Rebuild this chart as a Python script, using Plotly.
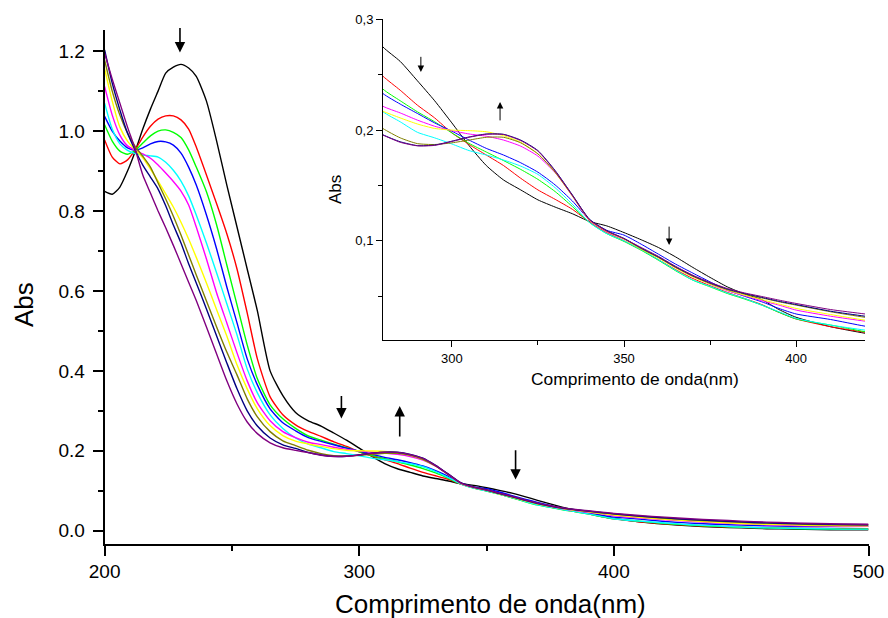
import plotly.graph_objects as go

# ---------------- data ----------------
wavelength = [200, 203, 206, 209, 212, 215, 218, 221, 224, 227, 230, 233, 236,
              240, 244, 248, 252, 256, 260,
              265, 270, 275, 280, 285, 290, 295, 300, 305, 310, 315, 320, 325, 330, 335, 340,
              345, 350, 355, 360, 365, 370, 375, 380, 385, 390, 395, 400,
              410, 420, 430, 440, 450, 460, 470, 480, 490, 500]

abs_black = [0.849, 0.842, 0.860, 0.900, 0.949, 1.005, 1.055, 1.100, 1.145, 1.160, 1.167, 1.158, 1.137,
             1.075, 0.975, 0.865, 0.760, 0.655, 0.550,
             0.400, 0.338, 0.296, 0.275, 0.262, 0.2445, 0.2265, 0.2065, 0.186, 0.168, 0.155, 0.146, 0.137, 0.1305, 0.1245, 0.1175,
             0.1135, 0.1075, 0.101, 0.094, 0.0855, 0.076, 0.067, 0.0585, 0.052, 0.047, 0.038, 0.031,
             0.0225, 0.0166, 0.012, 0.009, 0.007, 0.005, 0.004, 0.003, 0.002, 0.002]

abs_red = [0.978, 0.935, 0.918, 0.928, 0.953, 0.985, 1.012, 1.030, 1.038, 1.038, 1.028, 1.005, 0.960,
           0.890, 0.818, 0.743, 0.655, 0.545, 0.430,
           0.335, 0.290, 0.265, 0.2486, 0.236, 0.2225, 0.211, 0.1975, 0.187, 0.1775, 0.168, 0.1565, 0.146, 0.1375, 0.1285, 0.117,
           0.1075, 0.100, 0.092, 0.083, 0.074, 0.066, 0.0595, 0.0535, 0.048, 0.0425, 0.0355, 0.0295,
           0.0225, 0.0175, 0.0135, 0.0105, 0.0085, 0.007, 0.006, 0.0055, 0.005, 0.005]

abs_green = [1.016, 0.975, 0.950, 0.942, 0.952, 0.970, 0.988, 1.000, 1.003, 0.997, 0.984, 0.953, 0.910,
             0.848, 0.765, 0.665, 0.565, 0.465, 0.380,
             0.315, 0.280, 0.256, 0.237, 0.2265, 0.2165, 0.2075, 0.1975, 0.188, 0.1802, 0.1725, 0.1645, 0.1555, 0.1445, 0.131, 0.1165,
             0.1065, 0.0995, 0.0915, 0.0825, 0.073, 0.0645, 0.0585, 0.0525, 0.0475, 0.042, 0.0355, 0.0295,
             0.024, 0.018, 0.014, 0.011, 0.0085, 0.007, 0.0055, 0.0045, 0.004, 0.004]

abs_blue = [1.037, 1.000, 0.975, 0.958, 0.952, 0.958, 0.968, 0.974, 0.973, 0.965, 0.945, 0.910, 0.865,
            0.790, 0.705, 0.610, 0.520, 0.430, 0.365,
            0.305, 0.270, 0.250, 0.233, 0.2235, 0.215, 0.2065, 0.199, 0.191, 0.1835, 0.1775, 0.1705, 0.162, 0.1505, 0.136, 0.119,
            0.1095, 0.1052, 0.097, 0.088, 0.079, 0.0709, 0.063, 0.0555, 0.050, 0.045, 0.039, 0.034,
            0.029, 0.023, 0.019, 0.016, 0.014, 0.012, 0.011, 0.0105, 0.0105, 0.0108]

abs_cyan = [1.070, 1.005, 0.968, 0.952, 0.944, 0.940, 0.938, 0.935, 0.922, 0.902, 0.875, 0.838, 0.790,
            0.720, 0.645, 0.568, 0.490, 0.405, 0.345,
            0.290, 0.256, 0.232, 0.2165, 0.2075, 0.198, 0.193, 0.1875, 0.1815, 0.1775, 0.173, 0.1675, 0.160, 0.148, 0.133, 0.1165,
            0.1065, 0.100, 0.092, 0.083, 0.0735, 0.0646, 0.059, 0.053, 0.048, 0.042, 0.036, 0.030,
            0.024, 0.0194, 0.015, 0.012, 0.009, 0.007, 0.006, 0.005, 0.004, 0.004]

abs_magenta = [1.112, 1.040, 0.990, 0.963, 0.952, 0.943, 0.932, 0.915, 0.895, 0.874, 0.850, 0.815, 0.760,
               0.680, 0.595, 0.520, 0.445, 0.375, 0.320,
               0.275, 0.248, 0.233, 0.2215, 0.2155, 0.209, 0.2035, 0.1995, 0.1965, 0.1945, 0.191, 0.1855, 0.1765, 0.1615, 0.1405, 0.118,
               0.108, 0.1015, 0.093, 0.085, 0.076, 0.068, 0.061, 0.055, 0.0505, 0.046, 0.042, 0.0375,
               0.032, 0.0275, 0.0235, 0.020, 0.017, 0.015, 0.013, 0.012, 0.0112, 0.011]

abs_yellow = [1.157, 1.075, 1.010, 0.975, 0.953, 0.933, 0.905, 0.875, 0.843, 0.810, 0.772, 0.730, 0.684,
              0.620, 0.553, 0.487, 0.415, 0.355, 0.305,
              0.263, 0.238, 0.224, 0.217, 0.211, 0.2055, 0.2015, 0.200, 0.1995, 0.1985, 0.195, 0.189, 0.1785, 0.162, 0.1405, 0.1185,
              0.1085, 0.1015, 0.0925, 0.0845, 0.0755, 0.0675, 0.061, 0.0555, 0.051, 0.047, 0.043, 0.039,
              0.0335, 0.0284, 0.0245, 0.021, 0.018, 0.016, 0.0145, 0.013, 0.0125, 0.012]

abs_olive = [1.178, 1.100, 1.040, 0.995, 0.962, 0.937, 0.910, 0.870, 0.830, 0.787, 0.740, 0.690, 0.640,
             0.575, 0.510, 0.447, 0.390, 0.330, 0.285,
             0.248, 0.225, 0.213, 0.2014, 0.193, 0.1878, 0.187, 0.1885, 0.191, 0.1935, 0.1935, 0.1885, 0.1785, 0.162, 0.141, 0.119,
             0.1088, 0.102, 0.093, 0.085, 0.076, 0.068, 0.0615, 0.056, 0.052, 0.0485, 0.045, 0.042,
             0.036, 0.031, 0.027, 0.024, 0.021, 0.019, 0.017, 0.0155, 0.0145, 0.014]

abs_navy = [1.203, 1.120, 1.053, 0.995, 0.952, 0.915, 0.885, 0.855, 0.813, 0.765, 0.720, 0.668, 0.620,
            0.555, 0.487, 0.420, 0.355, 0.300, 0.262,
            0.232, 0.215, 0.206, 0.1958, 0.1895, 0.186, 0.1865, 0.190, 0.1938, 0.1965, 0.1962, 0.191, 0.1815, 0.1635, 0.1415, 0.1195,
            0.1092, 0.1022, 0.0935, 0.0855, 0.0765, 0.0685, 0.062, 0.0565, 0.0525, 0.049, 0.0455, 0.0425,
            0.0365, 0.032, 0.028, 0.025, 0.022, 0.0195, 0.018, 0.0165, 0.0155, 0.015]

abs_purple = [1.195, 1.130, 1.070, 1.010, 0.955, 0.890, 0.845, 0.800, 0.758, 0.714, 0.668, 0.622, 0.576,
              0.510, 0.442, 0.375, 0.317, 0.272, 0.243,
              0.220, 0.2075, 0.201, 0.1954, 0.189, 0.1858, 0.1862, 0.1897, 0.1935, 0.1962, 0.196, 0.1905, 0.181, 0.163, 0.141, 0.119,
              0.109, 0.102, 0.094, 0.086, 0.077, 0.069, 0.0625, 0.057, 0.053, 0.0498, 0.0465, 0.0435,
              0.038, 0.034, 0.030, 0.027, 0.024, 0.0215, 0.0195, 0.018, 0.0168, 0.016]

series = [
    ("#000000", abs_black), ("#FF0000", abs_red), ("#00FF00", abs_green),
    ("#0000FF", abs_blue), ("#00FFFF", abs_cyan), ("#FF00FF", abs_magenta),
    ("#FFFF00", abs_yellow), ("#808000", abs_olive), ("#000080", abs_navy),
    ("#800080", abs_purple),
]

# arrows: (x, y_tail, y_head)
main_arrows = [(229.6, 1.262, 1.197), (293.0, 0.341, 0.281),
               (315.9, 0.232, 0.312), (361.4, 0.205, 0.128)]
inset_arrows = [(291.0, 0.2675, 0.2525), (314.0, 0.2074, 0.2254),
                (363.1, 0.1142, 0.0962)]

main_yticks = [0.0, 0.2, 0.4, 0.6, 0.8, 1.0, 1.2]
inset_yticks = [0.1, 0.2, 0.3]
inset_yticktext = ["0,1", "0,2", "0,3"]

FONT = "Arial, Liberation Sans, sans-serif"
W, H = 888, 618

fig = go.Figure()
for color, vals in series:
    fig.add_trace(go.Scatter(x=wavelength, y=vals, mode="lines",
                             line=dict(color=color, width=1.4, shape="spline", smoothing=0.6),
                             xaxis="x", yaxis="y", showlegend=False, hoverinfo="skip"))
for color, vals in series:
    fig.add_trace(go.Scatter(x=wavelength, y=vals, mode="lines",
                             line=dict(color=color, width=1.0, shape="spline", smoothing=0.6),
                             xaxis="x2", yaxis="y2", showlegend=False, hoverinfo="skip"))

def px_x(p):
    return p / W

def px_y(p):
    return 1 - p / H

main_x_dom = [px_x(104.6), px_x(868.5)]
main_y_dom = [px_y(543.5), px_y(30)]
ins_x_dom = [px_x(383), px_x(865)]
ins_y_dom = [px_y(340), px_y(19)]

fig.update_layout(
    template="none",
    width=W, height=H,
    margin=dict(l=0, r=0, t=0, b=0, autoexpand=False),
    paper_bgcolor="white", plot_bgcolor="white",
    font=dict(family=FONT, color="black"),
    xaxis=dict(domain=main_x_dom, range=[200, 500], showgrid=False, zeroline=False, automargin=False,
               showline=True, linecolor="black", linewidth=2,
               ticks="outside", ticklen=10, tickwidth=2, tickcolor="black",
               tick0=200, dtick=100, tickfont=dict(size=19, family=FONT),
               minor=dict(dtick=50, ticklen=5, tickwidth=2, tickcolor="black", ticks="outside"),
               anchor="y"),
    yaxis=dict(domain=main_y_dom, range=[-0.032, 1.253], showgrid=False, zeroline=False, automargin=False,
               showline=True, linecolor="black", linewidth=2,
               ticks="outside", ticklen=10, tickwidth=2, tickcolor="black",
               tickvals=main_yticks, tickformat=".1f", tickfont=dict(size=19, family=FONT),
               ticklabelstandoff=4,
               minor=dict(dtick=0.1, tick0=0, ticklen=5, tickwidth=2, tickcolor="black", ticks="outside"),
               anchor="x"),
    xaxis2=dict(domain=ins_x_dom, range=[280, 420], showgrid=False, zeroline=False, automargin=False,
                showline=True, linecolor="black", linewidth=1,
                ticks="outside", ticklen=6, tickwidth=1, tickcolor="black",
                tick0=300, dtick=50, tickfont=dict(size=13, family=FONT),
                minor=dict(dtick=25, ticklen=4, tickwidth=1, tickcolor="black", ticks="outside"),
                anchor="y2"),
    yaxis2=dict(domain=ins_y_dom, range=[0.0105, 0.3003], showgrid=False, zeroline=False, automargin=False,
                showline=True, linecolor="black", linewidth=1,
                ticks="outside", ticklen=6, tickwidth=1, tickcolor="black",
                tickvals=inset_yticks, ticktext=inset_yticktext, tickfont=dict(size=13, family=FONT),
                minor=dict(dtick=0.05, tick0=0, ticklen=4, tickwidth=1, tickcolor="black", ticks="outside"),
                anchor="x2"),
)

annotations = []
for x, yt, yh in main_arrows:
    annotations.append(dict(x=x, y=yh, ax=x, ay=yt, xref="x", yref="y", axref="x", ayref="y",
                            showarrow=True, arrowhead=2, arrowsize=1.3, arrowwidth=1.6,
                            arrowcolor="black", text=""))
for x, yt, yh in inset_arrows:
    annotations.append(dict(x=x, y=yh, ax=x, ay=yt, xref="x2", yref="y2", axref="x2", ayref="y2",
                            showarrow=True, arrowhead=2, arrowsize=1.3, arrowwidth=1.0,
                            arrowcolor="black", text=""))

annotations += [
    dict(text="Comprimento de onda(nm)", x=px_x(490), y=px_y(604), xref="paper", yref="paper",
         showarrow=False, xanchor="center", yanchor="middle", font=dict(size=26, family=FONT)),
    dict(text="Abs", x=px_x(24), y=px_y(305), xref="paper", yref="paper", textangle=-90,
         showarrow=False, xanchor="center", yanchor="middle", font=dict(size=26, family=FONT)),
    dict(text="Comprimento de onda(nm)", x=px_x(635), y=px_y(379), xref="paper", yref="paper",
         showarrow=False, xanchor="center", yanchor="middle", font=dict(size=17.4, family=FONT)),
    dict(text="Abs", x=px_x(335), y=px_y(190), xref="paper", yref="paper", textangle=-90,
         showarrow=False, xanchor="center", yanchor="middle", font=dict(size=17, family=FONT)),
]
fig.update_layout(annotations=annotations)

fig.write_html("out.html")
